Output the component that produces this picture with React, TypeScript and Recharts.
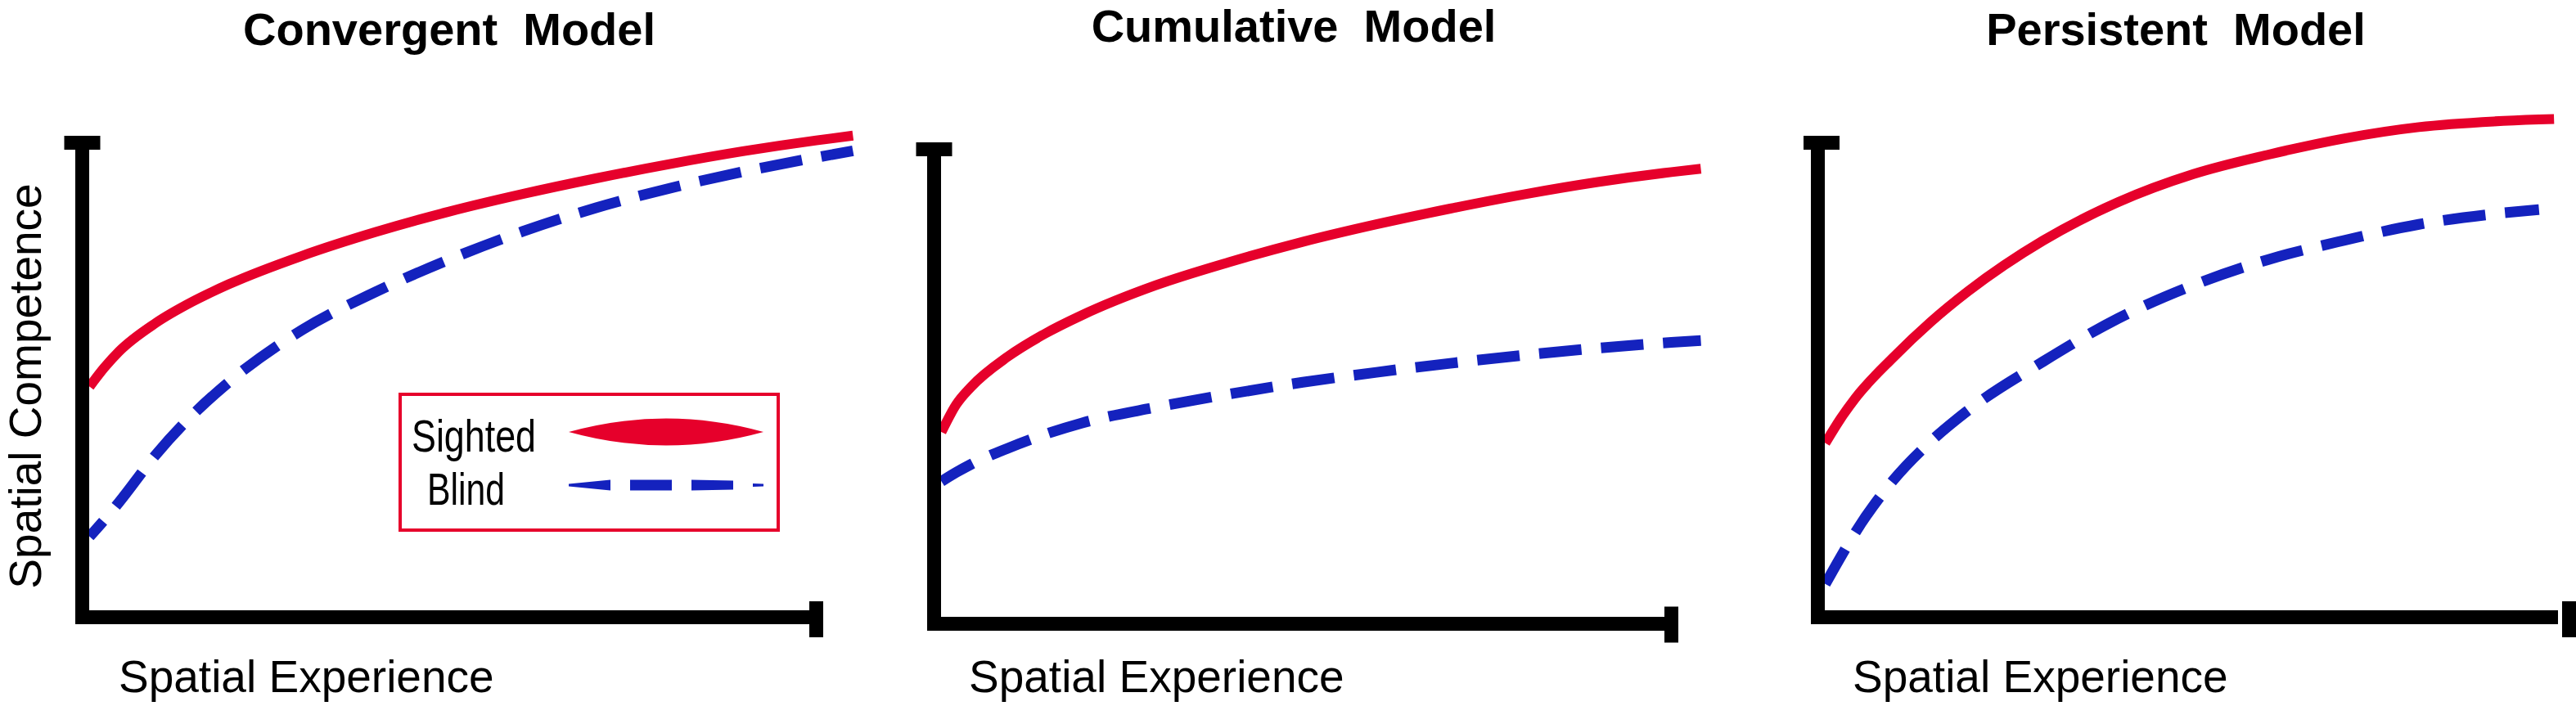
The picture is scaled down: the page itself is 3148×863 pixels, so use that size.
import { Legend, Line, LineChart, ReferenceLine, XAxis, YAxis } from "recharts";

const RED = "#E6002B";
const BLUE = "#1422BE";
const W = 3148;
const H = 863;

// values are in axis units: x 0..100 runs from the y axis to the end cap, y 0..100 from the x axis to the top cap
const convergentX = [1, 3, 5, 10, 15, 20, 30, 40, 50, 60, 70, 80, 90, 100, 105];
const convergentSighted = [48.6, 52.6, 56.0, 62.0, 66.5, 70.2, 76.2, 81.2, 85.5, 89.2, 92.5, 95.5, 98.2, 100.5, 101.5];
const convergentBlind = [17.0, 20.5, 24.2, 34.2, 42.6, 49.6, 60.6, 68.6, 75.4, 81.3, 86.3, 90.4, 93.9, 96.9, 98.3];

const cumulativeX = [1, 3, 5, 10, 15, 20, 30, 40, 50, 60, 70, 80, 90, 100, 104];
const cumulativeSighted = [40.4, 46.2, 49.9, 56.3, 61.1, 65.0, 71.3, 76.2, 80.5, 84.2, 87.5, 90.5, 93.1, 95.2, 95.9];
const cumulativeBlind = [30.0, 31.9, 33.6, 37.0, 39.9, 42.3, 45.6, 48.4, 50.9, 53.0, 54.9, 56.6, 58.1, 59.3, 59.7];

const persistentX = [1, 3, 5, 10, 15, 20, 30, 40, 50, 60, 70, 80, 90, 96, 98];
const persistentSighted = [36.7, 41.8, 46.2, 54.7, 62.2, 68.7, 79.4, 87.5, 93.4, 97.5, 100.9, 103.3, 104.5, 104.9, 105.0];
const persistentBlind = [7.0, 12.6, 17.9, 28.8, 37.0, 43.6, 53.9, 63.0, 70.0, 75.4, 79.4, 82.8, 85.0, 85.9, null];

const titles = ["Convergent  Model", "Cumulative  Model", "Persistent  Model"];
const seriesNames = ["Sighted", "Blind"];
const xLabel = "Spatial Experience";
const yLabel = "Spatial Competence";

const toRows = (xs: number[], a: (number | null)[], b: (number | null)[]) =>
  xs.map((x, i) => ({ x, sighted: a[i], blind: b[i] }));

// layout of each panel, in page pixels
const panels = [
  {
    rows: toRows(convergentX, convergentSighted, convergentBlind),
    title: titles[0], titleX: 549, titleY: 55,
    axisX: 100.5, axisY: 754.5, capY: 174.5, endX: 997.5, endCapY: 757, axisEnd: 997.5, capShift: 0,
    xMax: 106, labelX: 145, dashOffset: 27, legend: true,
  },
  {
    rows: toRows(cumulativeX, cumulativeSighted, cumulativeBlind),
    title: titles[1], titleX: 1581, titleY: 51,
    axisX: 1141.5, axisY: 762.5, capY: 182.5, endX: 2042.5, endCapY: 763.5, axisEnd: 2042.5, capShift: 0,
    xMax: 105, labelX: 1184, dashOffset: 8, legend: false,
  },
  {
    rows: toRows(persistentX, persistentSighted, persistentBlind),
    title: titles[2], titleX: 2659, titleY: 55,
    axisX: 2221.5, axisY: 754.5, capY: 174.5, endX: 3139.5, endCapY: 757, axisEnd: 3126, capShift: 4.5,
    xMax: 100, labelX: 2264, dashOffset: 3, legend: false,
  },
];

const legendTextWidth: Record<string, number> = { Sighted: 152, Blind: 95 };

const renderLegend = (props: any) => {
  const items = [...(props.payload || [])].sort(
    (a: any, b: any) => seriesNames.indexOf(a.value) - seriesNames.indexOf(b.value)
  );
  return (
    <div style={{ position: "relative", width: 466, height: 170, border: `4px solid ${RED}`, boxSizing: "border-box", background: "#fff" }}>
      <svg width={458} height={162} style={{ position: "absolute", left: 0, top: 0 }}>
        <g transform="translate(-4,-4)">
          {items.map((entry: any, i: number) => {
            const dashed = !!(entry.payload && entry.payload.strokeDasharray);
            const cy = i === 0 ? 48 : 113;
            return (
              <g key={entry.value}>
                <text
                  x={i === 0 ? 16 : 35}
                  y={i === 0 ? 72 : 137}
                  fontFamily="'Liberation Sans Narrow', 'Liberation Sans', sans-serif"
                  fontSize={56}
                  textLength={legendTextWidth[entry.value]}
                  lengthAdjust="spacingAndGlyphs"
                  fill="#000"
                >
                  {entry.value}
                </text>
                {dashed ? (
                  <g fill={entry.color}>
                    <polygon points={`208,${cy - 1.5} 259,${cy - 6.5} 259,${cy + 6.5} 208,${cy + 1.5}`} />
                    <polygon points={`283,${cy - 6.5} 334,${cy - 6.5} 334,${cy + 6.5} 283,${cy + 6.5}`} />
                    <polygon points={`358,${cy - 6.5} 409,${cy - 5.5} 409,${cy + 5.5} 358,${cy + 6.5}`} />
                    <polygon points={`433,${cy - 2} 446,${cy - 1.5} 446,${cy + 1.5} 433,${cy + 2}`} />
                  </g>
                ) : (
                  <path d={`M208 ${cy} Q327 ${cy - 33} 446 ${cy} Q327 ${cy + 33} 208 ${cy} Z`} fill={entry.color} />
                )}
              </g>
            );
          })}
        </g>
      </svg>
    </div>
  );
};

function Panel(props: { p: (typeof panels)[number] }) {
  const { p } = props;
  const px = (p.endX - p.axisX) / 100;
  const py = (p.axisY - p.capY) / 100;
  const yMax = 110;
  const plotW = p.xMax * px;
  const plotH = yMax * py;
  const margin = { left: p.axisX, top: p.axisY - plotH, right: W - p.axisX - plotW, bottom: H - p.axisY };
  const half = 8.5;
  const axisProps = { stroke: "#000", strokeWidth: 17, ifOverflow: "visible" as const };
  const endLow = (p.axisY - p.endCapY - 22) / py;
  const endHigh = (p.axisY - p.endCapY + 22) / py;

  return (
    <div style={{ position: "absolute", left: 0, top: 0 }}>
      <LineChart width={W} height={H} data={p.rows} margin={margin}>
        <XAxis type="number" dataKey="x" domain={[0, p.xMax]} hide />
        <YAxis type="number" domain={[0, yMax]} hide />
        <Line type="monotone" dataKey="sighted" name={seriesNames[0]} stroke={RED} strokeWidth={12} dot={false} activeDot={false} isAnimationActive={false} />
        <Line
          type="monotone"
          dataKey="blind"
          name={seriesNames[1]}
          stroke={BLUE}
          strokeWidth={13}
          strokeDasharray="52 24"
          strokeDashoffset={p.dashOffset}
          dot={false}
          activeDot={false}
          isAnimationActive={false}
        />
        <ReferenceLine segment={[{ x: 0, y: -half / py }, { x: 0, y: 100 }]} {...axisProps} />
        <ReferenceLine segment={[{ x: -half / px, y: 0 }, { x: (p.axisEnd - p.axisX) / px, y: 0 }]} {...axisProps} />
        <ReferenceLine segment={[{ x: (p.capShift - 22) / px, y: 100 }, { x: (p.capShift + 22) / px, y: 100 }]} {...axisProps} />
        <ReferenceLine segment={[{ x: 100, y: endLow }, { x: 100, y: endHigh }]} {...axisProps} />
        {p.legend && (
          <Legend
            layout="vertical"
            align="center"
            verticalAlign="middle"
            content={renderLegend}
            wrapperStyle={{ left: 487, top: 480, width: 466, height: 170 }}
          />
        )}
      </LineChart>
    </div>
  );
}

export default function App() {
  return (
    <div style={{ position: "absolute", left: 0, top: 0, width: W, height: H, background: "#fff", overflow: "hidden" }}>
      {panels.map((p) => (
        <Panel key={p.title} p={p} />
      ))}
      <svg width={W} height={H} style={{ position: "absolute", left: 0, top: 0, pointerEvents: "none" }}>
        {panels.map((p) => (
          <g key={p.title} fontFamily="'Liberation Sans', Arial, sans-serif" fill="#000">
            <text x={p.titleX} y={p.titleY} textAnchor="middle" fontSize={56} fontWeight="bold" style={{ whiteSpace: "pre" }}>
              {p.title}
            </text>
            <text x={p.labelX} y={846} fontSize={55}>
              {xLabel}
            </text>
          </g>
        ))}
        <text x={50} y={472} transform="rotate(-90 50 472)" textAnchor="middle" fontFamily="'Liberation Sans', Arial, sans-serif" fontSize={55} fill="#000">
          {yLabel}
        </text>
      </svg>
    </div>
  );
}
